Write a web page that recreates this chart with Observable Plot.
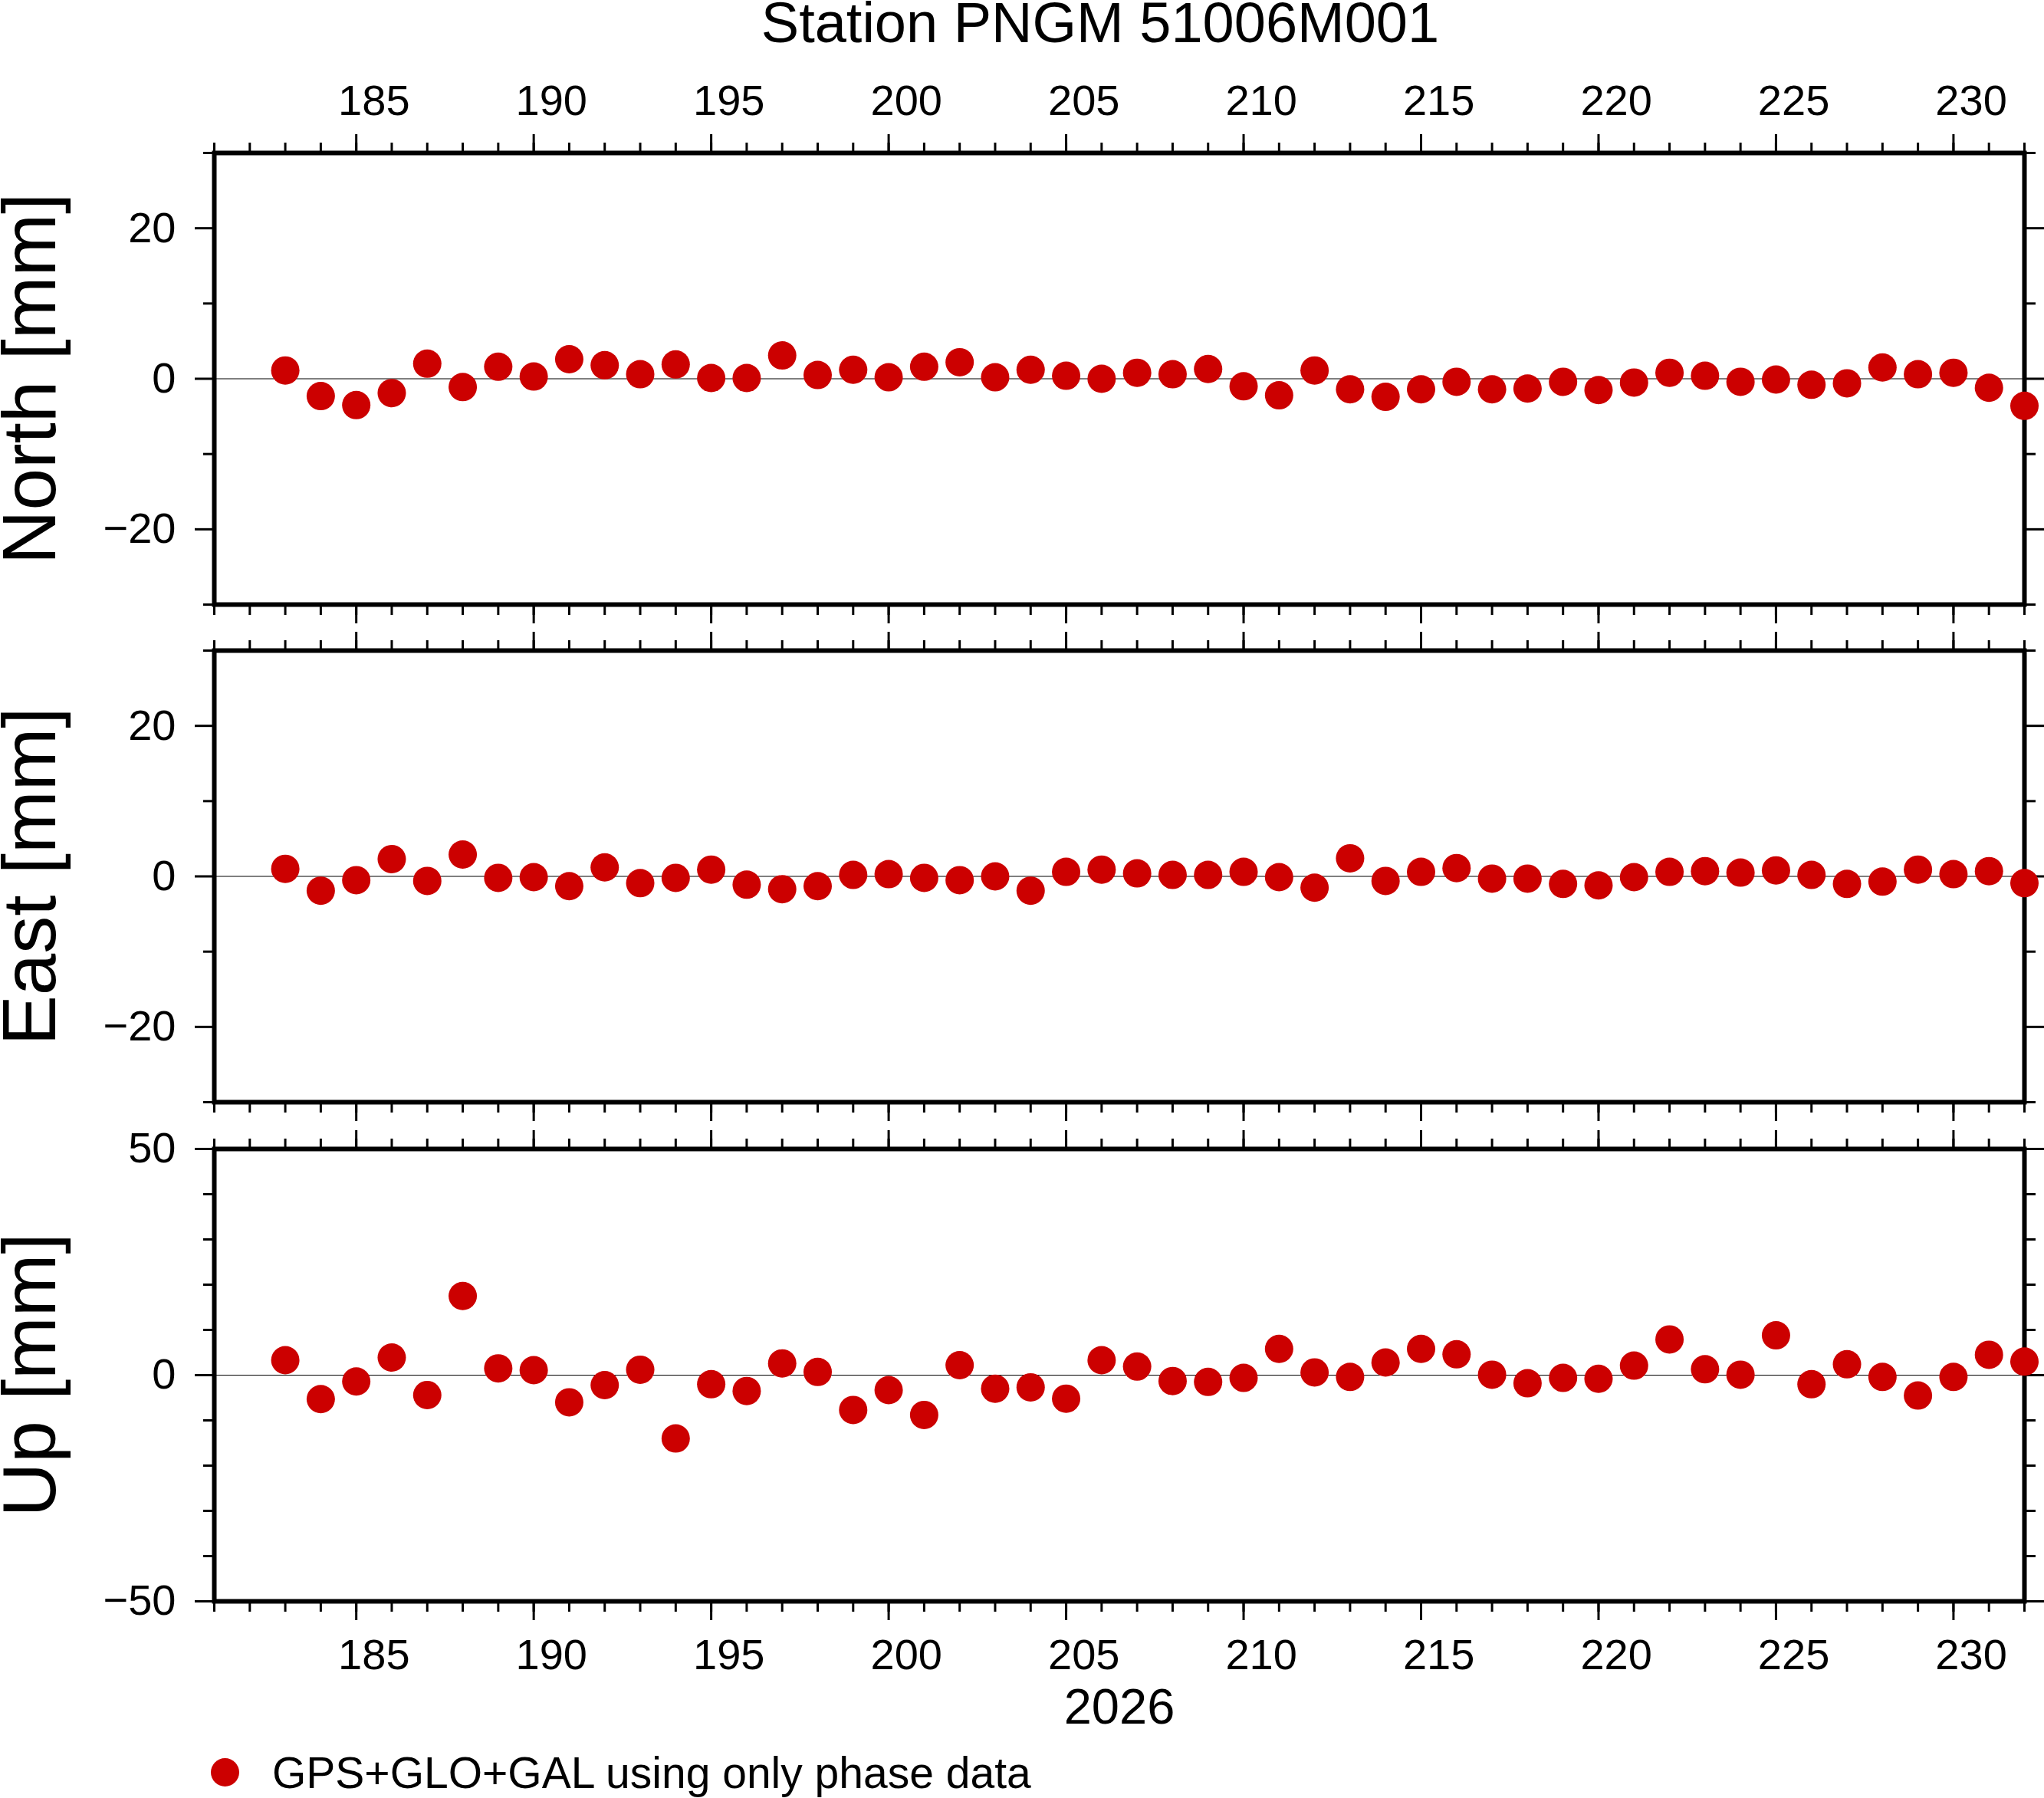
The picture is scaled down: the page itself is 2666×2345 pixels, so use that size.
<!DOCTYPE html>
<html>
<head>
<meta charset="utf-8">
<script src="https://cdn.jsdelivr.net/npm/d3@7"></script>
<script src="https://cdn.jsdelivr.net/npm/@observablehq/plot@0.6"></script>
<style>
  html, body { margin: 0; padding: 0; background: white; }
  body { position: relative; width: 2666px; height: 2345px; overflow: hidden; font-family: 'Liberation Sans', Arial, sans-serif; }
  .panel { position: absolute; left: 0; }
  #title { position: absolute; left: 0; top: -7px; width: 2870px; text-align: center; font-size: 74px; line-height: 74px; color: black; white-space: nowrap; }
  #legend-dot { position: absolute; left: 275px; top: 2293px; width: 37px; height: 37px; border-radius: 50%; background: #cc0000; }
  #legend-text { position: absolute; left: 355px; top: 2284px; font-size: 57px; line-height: 57px; color: black; white-space: nowrap; }
</style>
</head>
<body>
<div id="p1" class="panel" style="top:0px"></div>
<div id="p2" class="panel" style="top:820px"></div>
<div id="p3" class="panel" style="top:1470px"></div>
<div id="title"></div>
<div id="legend-dot"></div>
<div id="legend-text"></div>
<script>
// ---- data (day of year 2026) ----
const days  = [183,184,185,186,187,188,189,190,191,192,193,194,195,196,197,198,199,200,201,202,203,204,205,206,207,208,209,210,211,212,213,214,215,216,217,218,219,220,221,222,223,224,225,226,227,228,229,230,231,232];
const north = [1.1,-2.3,-3.5,-1.9,2.0,-1.1,1.6,0.3,2.6,1.8,0.6,1.9,0.1,0.1,3.1,0.5,1.2,0.2,1.6,2.2,0.2,1.2,0.4,0.0,0.8,0.6,1.3,-1.0,-2.2,1.1,-1.4,-2.4,-1.4,-0.4,-1.4,-1.3,-0.4,-1.5,-0.5,0.8,0.4,-0.4,-0.1,-0.8,-0.6,1.5,0.6,0.8,-1.2,-3.6];
const east  = [1.0,-1.9,-0.5,2.3,-0.6,2.9,-0.2,-0.1,-1.3,1.2,-0.9,-0.2,0.9,-1.1,-1.7,-1.3,0.2,0.3,-0.2,-0.5,0.0,-1.9,0.6,0.9,0.4,0.2,0.2,0.6,-0.1,-1.5,2.4,-0.6,0.6,1.1,-0.3,-0.3,-1.0,-1.2,-0.1,0.6,0.7,0.5,0.8,0.2,-1.0,-0.7,0.9,0.3,0.7,-0.9];
const up    = [3.3,-5.3,-1.4,3.9,-4.4,17.5,1.5,1.1,-6.0,-2.2,1.2,-14.0,-2.0,-3.5,2.6,0.7,-7.7,-3.3,-8.8,2.2,-3.0,-2.7,-5.2,3.3,1.9,-1.3,-1.5,-0.6,5.8,0.6,-0.4,2.8,5.8,4.6,0.1,-1.8,-0.6,-0.8,2.1,7.9,1.3,0.1,8.8,-2.0,2.4,-0.4,-4.5,-0.4,4.5,3.0];

// ---- axis / text ----
const xDomain = [181, 232];
const xMajorTicks = [185,190,195,200,205,210,215,220,225,230];
const xMinorTicks = d3.range(181, 233);
const yearLabel = "2026";
const titleText = "Station PNGM 51006M001";
const legendText = "GPS+GLO+GAL using only phase data";
const panelLabels = ["North [mm]", "East [mm]", "Up [mm]"];
const nePairDomain = [-30, 30];
const neMajor = [-20, 0, 20];
const neMinor = [-30, -10, 10, 30];
const upDomain = [-50, 50];
const upMajor = [-50, 0, 50];
const upMinor = [-40, -30, -20, -10, 10, 20, 30, 40];

const rows = days.map((d, i) => ({day: d, north: north[i], east: east[i], up: up[i]}));

const RED = "#cc0000";
const FS = 56;

function panel({key, label, yDomain, yMajor, yMinor, height, marginTop, marginBottom, topLabels, bottomLabels}) {
  const blank = () => "";
  const marks = [
    Plot.ruleY([0], {stroke: "black", strokeWidth: 1.2}),
    Plot.frame({stroke: "black", strokeWidth: 6}),
    Plot.axisX(xMinorTicks, {anchor: "top", tickSize: 14, strokeWidth: 3, tickFormat: blank, label: null}),
    Plot.axisX(xMajorTicks, {anchor: "top", tickSize: 25, strokeWidth: 3, tickFormat: blank, label: null}),
    Plot.axisX(xMinorTicks, {anchor: "bottom", tickSize: 14, strokeWidth: 3, tickFormat: blank, label: null}),
    Plot.axisX(xMajorTicks, {anchor: "bottom", tickSize: 25, strokeWidth: 3, tickFormat: blank, label: null}),
    Plot.axisY(yMinor, {anchor: "left", tickSize: 14, strokeWidth: 3, tickFormat: blank, label: null}),
    Plot.axisY(yMajor, {anchor: "left", tickSize: 25, tickPadding: 25, strokeWidth: 3, fontSize: FS, label: null}),
    Plot.axisY(yMinor, {anchor: "right", tickSize: 14, strokeWidth: 3, tickFormat: blank, label: null}),
    Plot.axisY(yMajor, {anchor: "right", tickSize: 26, strokeWidth: 3, tickFormat: blank, label: null}),
    Plot.text([label], {text: d => d, frameAnchor: "left", textAnchor: "middle", rotate: -90, dx: -208, fontSize: 98, lineAnchor: "bottom"}),
    Plot.dot(rows, {x: "day", y: key, r: 18.5, fill: RED})
  ];
  if (topLabels) {
    marks.push(Plot.text(xMajorTicks, {x: d => d + 0.5, text: d => String(d), frameAnchor: "top", dy: -67, fontSize: FS, lineAnchor: "middle"}));
  }
  if (bottomLabels) {
    marks.push(Plot.text(xMajorTicks, {x: d => d + 0.5, text: d => String(d), frameAnchor: "bottom", dy: 71, fontSize: FS, lineAnchor: "middle"}));
    marks.push(Plot.text([yearLabel], {text: d => d, frameAnchor: "bottom", dy: 139, fontSize: 65, lineAnchor: "middle"}));
  }
  return Plot.plot({
    width: 2666,
    height,
    marginLeft: 279,
    marginRight: 26,
    marginTop,
    marginBottom,
    style: "font-family: 'Liberation Sans', Arial, sans-serif; background: transparent; overflow: visible;",
    x: {domain: xDomain, label: null},
    y: {domain: yDomain, label: null},
    marks
  });
}

document.getElementById("p1").appendChild(panel({key: "north", label: panelLabels[0], yDomain: nePairDomain, yMajor: neMajor, yMinor: neMinor, height: 820, marginTop: 199, marginBottom: 32, topLabels: true}));
document.getElementById("p2").appendChild(panel({key: "east", label: panelLabels[1], yDomain: nePairDomain, yMajor: neMajor, yMinor: neMinor, height: 650, marginTop: 28, marginBottom: 33}));
document.getElementById("p3").appendChild(panel({key: "up", label: panelLabels[2], yDomain: upDomain, yMajor: upMajor, yMinor: upMinor, height: 800, marginTop: 28, marginBottom: 182, bottomLabels: true}));

document.getElementById("title").textContent = titleText;
document.getElementById("legend-text").textContent = legendText;
</script>
</body>
</html>
